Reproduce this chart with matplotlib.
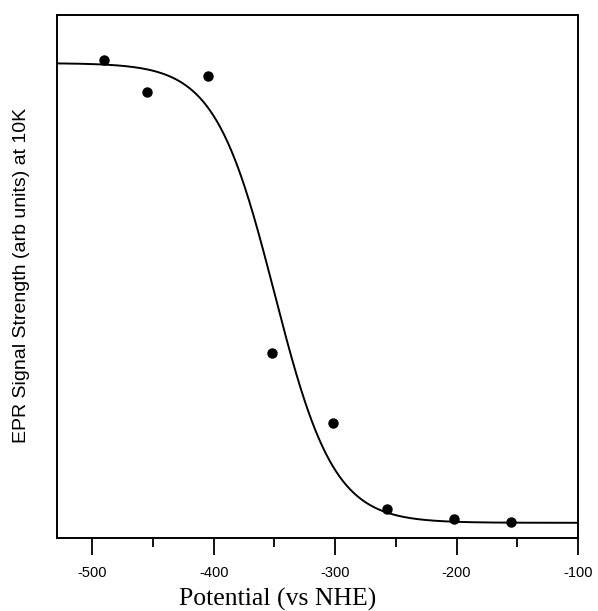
import numpy as np
import matplotlib
matplotlib.use("Agg")
import matplotlib.pyplot as plt
from matplotlib.ticker import MultipleLocator

# Data points
potential = [-490, -455, -405, -352, -302, -257, -202, -155]
signal = [0.914, 0.853, 0.883, 0.354, 0.220, 0.055, 0.036, 0.031]

# Nernst (n=1) fit parameters
E0 = -350.0
n_e = 1
top = 0.908
bottom = 0.029
kT_mV = 24.5

xticks = [-500, -400, -300, -200, -100]
xtick_labels = ["-500", "-400", "-300", "-200", "-100"]

fig = plt.figure(figsize=(5.98, 6.11), dpi=100)
ax = fig.add_axes([0.0953, 0.1195, 0.8713, 0.856])

E = np.linspace(-529, -100, 600)
fit = bottom + (top - bottom) / (1 + np.exp(n_e * (E - E0) / kT_mV))
ax.plot(E, fit, color="black", lw=1.4)
ax.plot(potential, signal, "o", color="black", ms=6.5)

ax.set_xlim(-529, -100)
ax.set_ylim(0, 1)
ax.set_xticks(xticks)
ax.set_xticklabels(xtick_labels, fontfamily="Liberation Sans", fontsize=10.5)
ax.xaxis.set_minor_locator(MultipleLocator(50))
ax.tick_params(axis="x", which="major", direction="out", length=12.5, width=1.3, pad=8)
ax.tick_params(axis="x", which="minor", direction="out", length=6.5, width=1.3)
ax.set_yticks([])
for s in ax.spines.values():
    s.set_linewidth(1.4)

fig.text(278 / 598, 1 - 599 / 611, "Potential (vs NHE)", fontfamily="Liberation Serif",
         fontsize=18.5, ha="center", va="center")
fig.text(22 / 598, 1 - 275 / 611, "EPR Signal Strength (arb units) at 10K",
         fontfamily="Liberation Sans", fontsize=14, rotation=90, ha="center", va="center")

fig.savefig("out.png", dpi=100)
